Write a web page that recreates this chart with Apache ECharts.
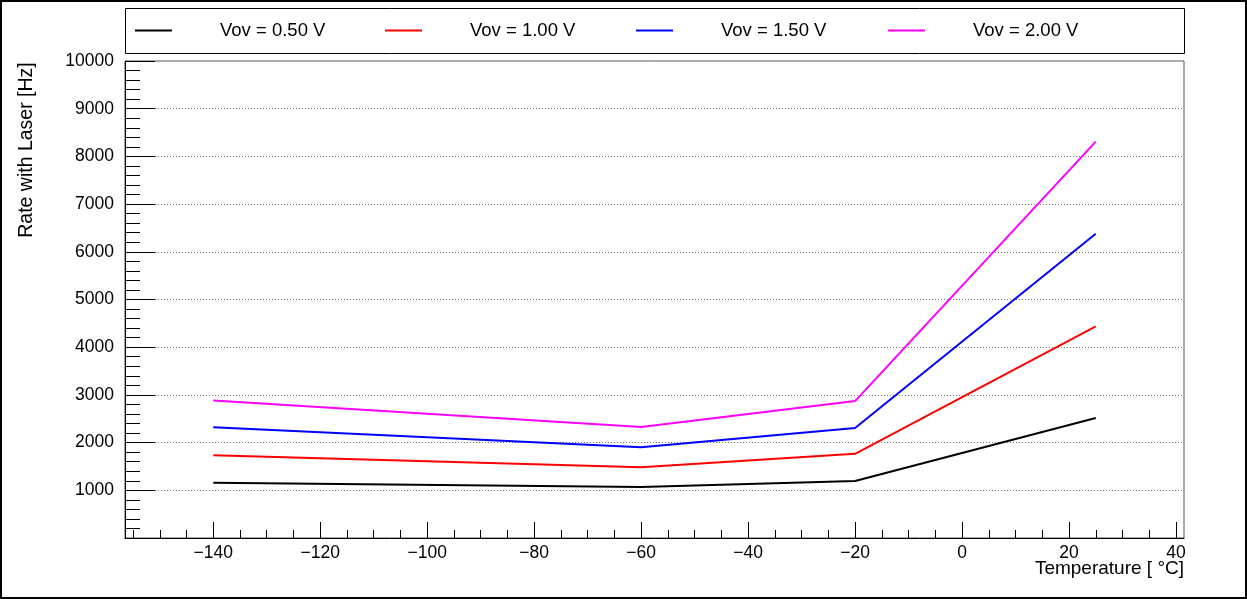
<!DOCTYPE html>
<html>
<head>
<meta charset="utf-8">
<script src="https://cdn.jsdelivr.net/npm/echarts@6/dist/echarts.min.js"></script>
<style>
  html, body { margin: 0; padding: 0; background: #fff; }
  #chart { width: 1247px; height: 599px; }
</style>
</head>
<body>
<div id="chart"></div>
<script>
// Laser trigger rate versus temperature for four over-voltage settings
const temperatures = [-140, -60, -20, 25];
const rateVov050 = [1160, 1068, 1194, 2515];
const rateVov100 = [1735, 1485, 1765, 4435];
const rateVov150 = [2320, 1905, 2305, 6378];
const rateVov200 = [2885, 2325, 2870, 8310];

const seriesNames = ['Vov = 0.50 V', 'Vov = 1.00 V', 'Vov = 1.50 V', 'Vov = 2.00 V'];
const seriesColors = ['#000000', '#ff0000', '#0000ff', '#ff00ff'];
const seriesValues = [rateVov050, rateVov100, rateVov150, rateVov200];

const xMajorTicks = [-140, -120, -100, -80, -60, -40, -20, 0, 20, 40];
const xMinorTicks = [-155, -150, -145, -135, -130, -125, -115, -110, -105, -95, -90, -85,
  -75, -70, -65, -55, -50, -45, -35, -30, -25, -15, -10, -5, 5, 10, 15, 25, 30, 35];

const FONT = '"Liberation Sans", Arial, Helvetica, sans-serif';
const minus = v => String(v).replace('-', '\u2212');

const chart = echarts.init(document.getElementById('chart'), null, { renderer: 'canvas' });

const legendLefts = [135, 385, 636, 888];

chart.setOption({
  animation: false,
  backgroundColor: '#ffffff',
  grid: {
    left: 125, right: 63, top: 61, bottom: 61,
    show: true, borderColor: '#555555', borderWidth: 1
  },
  legend: seriesNames.map((name, i) => ({
    data: [name],
    left: legendLefts[i],
    top: 21,
    padding: 0,
    icon: 'rect',
    itemWidth: 37,
    itemHeight: 2,
    textStyle: { fontFamily: FONT, fontSize: 18.5, color: '#000', padding: [7, 0, 0, 43] }
  })),
  xAxis: [
    {
      type: 'value',
      min: -156.5,
      max: 41.5,
      axisLine: { show: true, onZero: false, lineStyle: { color: '#000', width: 1 } },
      axisTick: { show: true, inside: true, length: 16, customValues: xMajorTicks,
        lineStyle: { color: '#000', width: 1 } },
      axisLabel: { customValues: xMajorTicks, formatter: minus, margin: 6,
        fontFamily: FONT, fontSize: 17.5, color: '#000' },
      splitLine: { show: false }
    },
    {
      type: 'value',
      min: -156.5,
      max: 41.5,
      position: 'bottom',
      axisLine: { show: false },
      axisTick: { show: true, inside: true, length: 8, customValues: xMinorTicks,
        lineStyle: { color: '#000', width: 1 } },
      axisLabel: { show: false },
      splitLine: { show: false }
    }
  ],
  yAxis: {
    type: 'value',
    min: 0,
    max: 10000,
    interval: 1000,
    axisLine: { show: true, onZero: false, lineStyle: { color: '#000', width: 1 } },
    axisTick: { show: true, inside: true, length: 30, lineStyle: { color: '#000', width: 1 } },
    minorTick: { show: true, splitNumber: 5, length: 15, lineStyle: { color: '#000', width: 1 } },
    axisLabel: { showMinLabel: false, margin: 11, formatter: v => String(v),
      fontFamily: FONT, fontSize: 17.5, color: '#000' },
    splitLine: { show: true, showMinLine: false, showMaxLine: false,
      lineStyle: { color: '#777', width: 1, type: [1, 2] } }
  },
  series: seriesNames.map((name, i) => ({
    name: name,
    type: 'line',
    xAxisIndex: 0,
    data: temperatures.map((t, k) => [t, seriesValues[i][k]]),
    showSymbol: false,
    symbol: 'none',
    lineStyle: { color: seriesColors[i], width: 2 },
    itemStyle: { color: seriesColors[i] },
    z: 3
  })),
  graphic: [
    { type: 'rect', shape: { x: 125.5, y: 8.5, width: 1059, height: 45 },
      style: { fill: 'none', stroke: '#000', lineWidth: 1 }, z: 10 },
    { type: 'rect', shape: { x: 1, y: 1, width: 1245, height: 597 },
      style: { fill: 'none', stroke: '#000', lineWidth: 2 }, z: 10 },
    { type: 'text', x: 27, y: 150, rotation: Math.PI / 2,
      style: { text: 'Rate with Laser [Hz]', fontFamily: FONT, fontSize: 19.5, fill: '#000',
        textAlign: 'center', textVerticalAlign: 'middle' } },
    { type: 'text', x: 1184, y: 569,
      style: { text: 'Temperature [ \u00b0C]', fontFamily: FONT, fontSize: 19, fill: '#000',
        textAlign: 'right', textVerticalAlign: 'middle' } }
  ]
});
</script>
</body>
</html>
